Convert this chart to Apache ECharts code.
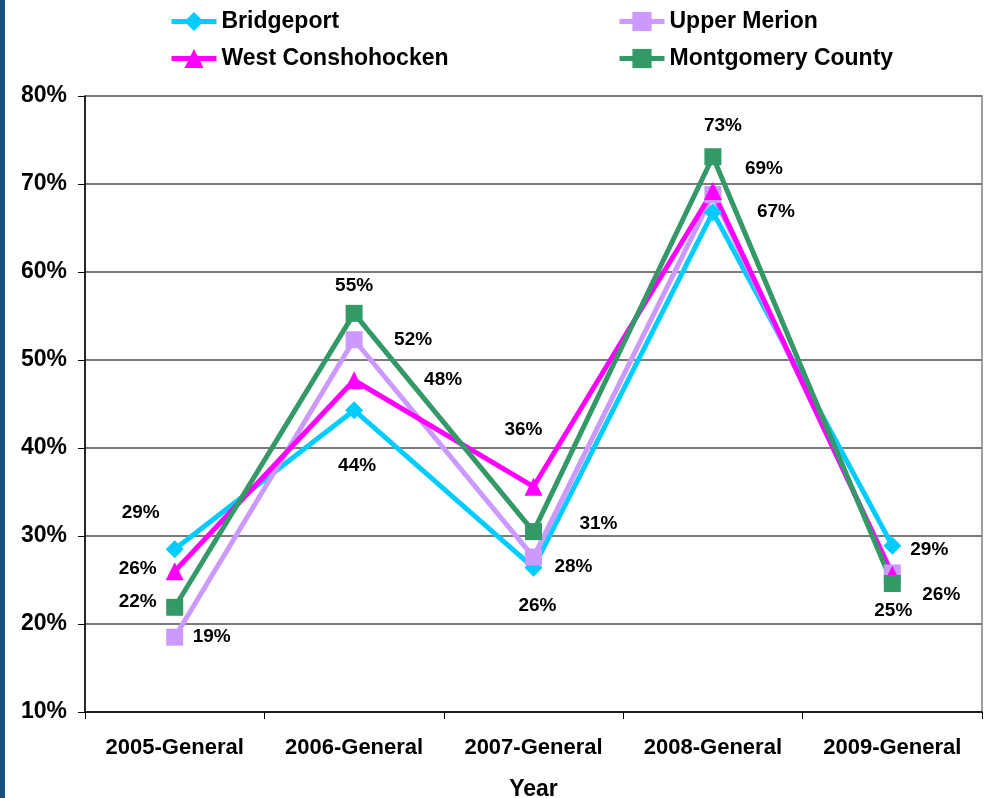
<!DOCTYPE html>
<html>
<head>
<meta charset="utf-8">
<script src="https://cdn.jsdelivr.net/npm/echarts@6/dist/echarts.min.js"></script>
<style>
    html, body { margin: 0; padding: 0; background: #fff; }
    #bar { position: absolute; left: 0; top: 0; width: 5px; height: 798px; background: #15507f; }
    #chart { width: 988px; height: 798px; }
</style>
</head>
<body>
<div id="chart"></div>
<div id="bar"></div>
<script>
// categories and values (percent)
var years = ['2005-General', '2006-General', '2007-General', '2008-General', '2009-General'];
var bridgeport = [28.5, 44.3, 26.4, 66.8, 28.9];
var upperMerion = [18.5, 52.3, 27.6, 68.8, 25.8];
var westConsh = [26.0, 47.7, 35.6, 69.2, 25.6];
var montgomery = [21.9, 55.3, 30.5, 73.1, 24.6];
var yTicks = [10, 20, 30, 40, 50, 60, 70, 80];

// where each data label sits relative to its point (null = no label)
var offB = [[-34, -36], [3, 56], [4, 38], [63, 0], [37, 4]];
var offU = [[37, 0], [59, 0], [40, 10], null, [49, 22]];
var offW = [[-37, -2], [89, 0], [-10, -57], [51, -22], null];
var offM = [[-37, -6], [0, -28], [65, -8], [10, -31], [1, 27]];

var myChart = echarts.init(document.getElementById('chart'));

function points(values, offsets) {
    var out = [];
    for (var i = 0; i < values.length; i++) {
        var o = offsets[i];
        out.push({
            value: values[i],
            label: o ? { show: true, offset: o } : { show: false }
        });
    }
    return out;
}

function makeSeries(name, values, offsets, color, symbol, size) {
    return {
        name: name,
        type: 'line',
        data: points(values, offsets),
        symbol: symbol,
        symbolSize: size,
        lineStyle: { color: color, width: 5 },
        itemStyle: { color: color },
        label: {
            show: true,
            position: 'inside',
            formatter: function (p) { return Math.round(p.value) + '%'; },
            color: '#000',
            fontFamily: 'Liberation Sans, Arial',
            fontWeight: 'bold',
            fontSize: 19
        },
        emphasis: { disabled: true }
    };
}

var boldText = {
    color: '#000',
    fontFamily: 'Liberation Sans, Arial',
    fontWeight: 'bold',
    fontSize: 23
};

var legendBase = {
    orient: 'vertical',
    top: 5,
    itemWidth: 45,
    itemHeight: 24,
    itemGap: 14,
    lineStyle: { width: 5 },
    textStyle: boldText
};

option = {
    animation: false,
    legend: [
        Object.assign({ data: ['Bridgeport', 'West Conshohocken'], left: 164 }, legendBase),
        Object.assign({ data: ['Upper Merion', 'Montgomery County'], left: 612 }, legendBase)
    ],
    grid: {
        left: 85,
        right: 6,
        top: 96,
        bottom: 86,
        outerBoundsMode: 'none',
        show: true,
        borderColor: '#808080',
        borderWidth: 1.5
    },
    xAxis: {
        type: 'category',
        data: years,
        name: 'Year',
        nameLocation: 'middle',
        nameGap: 66,
        nameTextStyle: boldText,
        axisLine: { lineStyle: { color: '#000', width: 1.5 } },
        axisTick: { show: true, interval: 0, length: 7, lineStyle: { color: '#000' } },
        axisLabel: {
            interval: 0,
            margin: 25,
            color: '#000',
            fontFamily: 'Liberation Sans, Arial',
            fontWeight: 'bold',
            fontSize: 22
        }
    },
    yAxis: {
        type: 'value',
        min: yTicks[0],
        max: yTicks[yTicks.length - 1],
        interval: 10,
        axisLine: { show: true, lineStyle: { color: '#000', width: 1.5 } },
        axisTick: { show: true, length: 7, lineStyle: { color: '#000' } },
        axisLabel: {
            formatter: '{value}%',
            margin: 18,
            color: '#000',
            fontFamily: 'Liberation Sans, Arial',
            fontWeight: 'bold',
            fontSize: 23
        },
        splitLine: { show: true, lineStyle: { color: '#7a7a7a', width: 2 } }
    },
    series: [
        makeSeries('Bridgeport', bridgeport, offB, '#00ccff', 'diamond', 18),
        makeSeries('Upper Merion', upperMerion, offU, '#cc99ff', 'rect', 17),
        makeSeries('West Conshohocken', westConsh, offW, '#ff00ff', 'triangle', 18),
        makeSeries('Montgomery County', montgomery, offM, '#339966', 'rect', 17)
    ]
};

myChart.setOption(option);
</script>
</body>
</html>
